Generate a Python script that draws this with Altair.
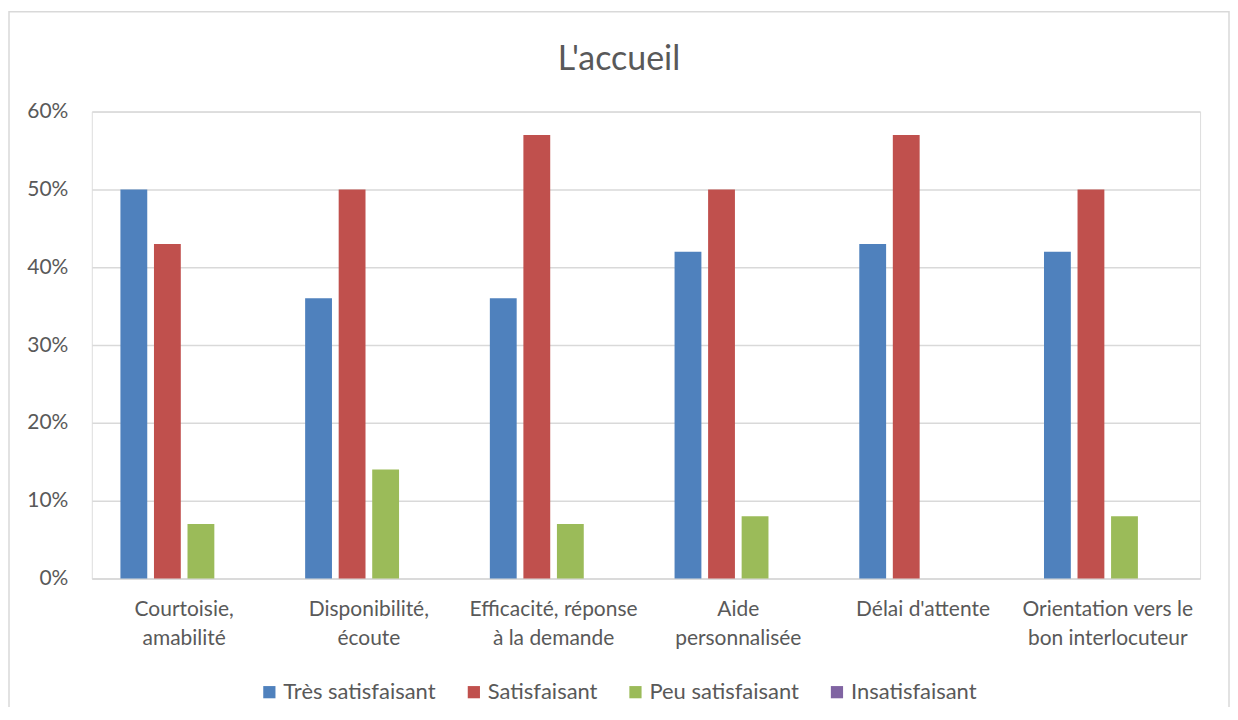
import altair as alt
import pandas as pd

categories = [
    "Courtoisie,\namabilité",
    "Disponibilité,\nécoute",
    "Efficacité, réponse\nà la demande",
    "Aide\npersonnalisée",
    "Délai d'attente",
    "Orientation vers le\nbon interlocuteur",
]
series = ["Très satisfaisant", "Satisfaisant", "Peu satisfaisant", "Insatisfaisant"]
colors = ["#4F81BD", "#C0504D", "#9BBB59", "#8064A2"]

tres_satisfaisant = [0.50, 0.36, 0.36, 0.42, 0.43, 0.42]
satisfaisant = [0.43, 0.50, 0.57, 0.50, 0.57, 0.50]
peu_satisfaisant = [0.07, 0.14, 0.07, 0.08, 0.00, 0.08]
insatisfaisant = [0.0, 0.0, 0.0, 0.0, 0.0, 0.0]

values = [tres_satisfaisant, satisfaisant, peu_satisfaisant, insatisfaisant]
rows = []
for s, vals in zip(series, values):
    for c, v in zip(categories, vals):
        rows.append({"cat": c, "serie": s, "val": v})
df = pd.DataFrame(rows)

FONT = "Lato"
GREY = "#595959"

bars = alt.Chart(df).mark_bar().encode(
    x=alt.X(
        "cat:N",
        sort=categories,
        title=None,
        scale=alt.Scale(paddingInner=0.31, paddingOuter=0.155),
        axis=alt.Axis(
            labelAngle=0,
            labelExpr="split(datum.label, '\\n')",
            labelFontSize=21,
            labelColor=GREY,
            labelFont=FONT,
            labelLineHeight=29,
            labelPadding=20,
            ticks=False,
            domainColor="#D9D9D9",
            domainWidth=1.5,
            labelLimit=300,
        ),
    ),
    xOffset=alt.XOffset("serie:N", sort=series, scale=alt.Scale(paddingInner=0.2)),
    y=alt.Y(
        "val:Q",
        title=None,
        scale=alt.Scale(domain=[0, 0.6]),
        axis=alt.Axis(
            format=".0%",
            values=[0, 0.1, 0.2, 0.3, 0.4, 0.5, 0.6],
            labelFontSize=21,
            labelColor=GREY,
            labelFont=FONT,
            labelPadding=24,
            ticks=False,
            domain=False,
            gridColor="#D9D9D9",
            gridWidth=1.5,
        ),
    ),
    color=alt.Color(
        "serie:N",
        sort=series,
        scale=alt.Scale(domain=series, range=colors),
        legend=alt.Legend(
            title=None,
            orient="none",
            direction="horizontal",
            legendX=167,
            legendY=571,
            symbolType="square",
            symbolSize=150,
            symbolStrokeWidth=0,
            labelFontSize=22,
            labelColor=GREY,
            labelFont=FONT,
            labelOffset=3,
            columnPadding=27,
            labelLimit=300,
        ),
    ),
)

frame = alt.Chart(pd.DataFrame({"a": [0]})).mark_rect(
    fill=None, stroke="#D9D9D9", strokeWidth=1.5
).encode(
    x=alt.value(-83), x2=alt.value(1140), y=alt.value(-100), y2=alt.value(620)
)

chart = alt.layer(frame, bars).properties(
    width=1111,
    height=468,
    autosize=alt.AutoSizeParams(type="none"),
    padding={"left": 84, "top": 103, "right": 30, "bottom": 128},
    title=alt.TitleParams(
        "L'accueil",
        font=FONT,
        fontSize=34,
        fontWeight="normal",
        color=GREY,
        anchor="middle",
        frame="group",
        baseline="alphabetic",
        dx=-27,
        offset=-93,
    ),
).configure_view(stroke=None).configure(background="white")

chart.save("out.html", embed_options={"renderer": "svg", "actions": False})
